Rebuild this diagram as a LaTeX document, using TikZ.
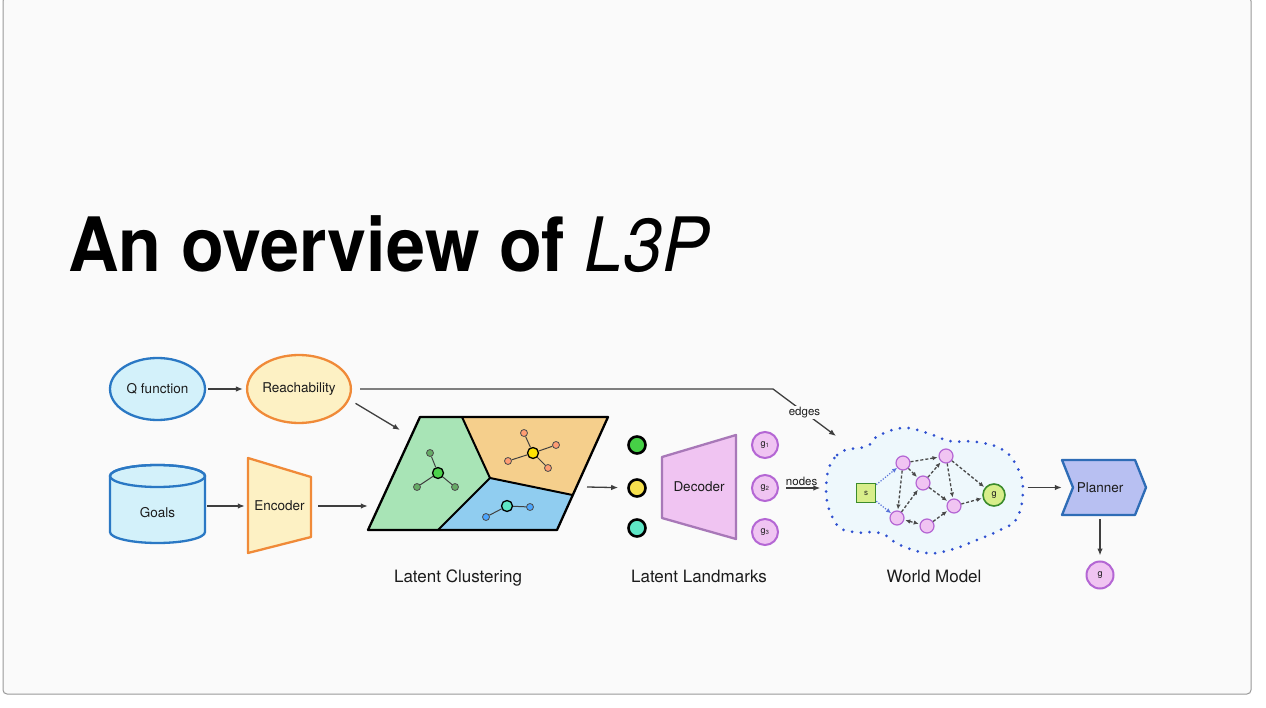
\documentclass[tikz,border=0pt]{standalone}
\usepackage{fontspec}
\setmainfont{TeX Gyre Heros}
\usetikzlibrary{arrows.meta,shapes.geometric,calc}

\definecolor{slidebg}{HTML}{FAFAFA}
\definecolor{ink}{HTML}{1C1C1C}
\definecolor{qfill}{HTML}{D3F1FA}
\definecolor{qdraw}{HTML}{2A78C4}
\definecolor{yfill}{HTML}{FDF1C4}
\definecolor{odraw}{HTML}{F08A38}
\definecolor{regG}{HTML}{A8E4B6}
\definecolor{regO}{HTML}{F5CF8C}
\definecolor{regB}{HTML}{90CDF0}
\definecolor{pinkfill}{HTML}{F0C4F2}
\definecolor{decdraw}{HTML}{A878B8}
\definecolor{gdraw}{HTML}{B466D4}
\definecolor{cloudfill}{HTML}{EEF8FC}
\definecolor{dotblue}{HTML}{2F50D0}
\definecolor{planfill}{HTML}{B8C0F2}
\definecolor{plandraw}{HTML}{2E6CB6}
\definecolor{sfill}{HTML}{D8EE8A}
\definecolor{sdraw}{HTML}{3C8C2C}
\definecolor{lmkG}{HTML}{46D046}
\definecolor{lmkY}{HTML}{F6E04E}
\definecolor{lmkA}{HTML}{5EE6C6}

\begin{document}
\begin{tikzpicture}[x=1pt,y=-1pt,
  txt/.style={font=\fontsize{13.5}{14}\selectfont, text=ink},
  lab/.style={font=\fontsize{11.5}{12}\selectfont, text=ink, inner sep=1pt},
  caption/.style={font=\fontsize{17}{18}\selectfont, text=ink, anchor=base},
  ell/.style={ellipse, line width=2.3pt, inner sep=0pt, txt},
  box/.style={inner sep=0pt, txt},
  arr/.style={-{Latex[length=7pt,width=5.5pt]}, line width=1.3pt, draw=ink!85},
  shp/.style={line width=2.3pt, line join=round},
  lmk/.style={circle, line width=2.6pt, draw=black, minimum size=17pt, inner sep=0pt},
  gcirc/.style={circle, line width=2pt, draw=gdraw, fill=pinkfill, minimum size=26pt, inner sep=0pt,
                font=\fontsize{9}{9}\selectfont, text=ink},
  pn/.style={circle, line width=1.2pt, draw=gdraw, fill=pinkfill, minimum size=14pt, inner sep=0pt},
  dedge/.style={-{Latex[length=5pt,width=4.5pt]}, line width=1.3pt, draw=ink!80, dash pattern=on 3pt off 2pt, shorten >=1pt},
  sedge/.style={-{Latex[length=5pt,width=4.5pt]}, line width=1.2pt, draw=dotblue!80, dash pattern=on 1.2pt off 1.6pt},
  hub/.style={circle, draw=black, line width=1.3pt, minimum size=11pt, inner sep=0pt},
  sat/.style={circle, draw=black!70, line width=0.8pt, minimum size=7pt, inner sep=0pt},
  spoke/.style={line width=1pt, draw=black!75}
]
\useasboundingbox (0,0) rectangle (1266,708);
\fill[white] (0,0) rectangle (1266,708);
\draw[fill=slidebg, draw=black!40, line width=1pt, rounded corners=4pt] (3,-3) rectangle (1251,694);

% title
\node[anchor=base west, inner sep=0pt, text=black] (title) at (68,272)
  {\scalebox{0.935}[1]{\fontsize{75}{75}\selectfont\bfseries An overview of \mdseries\itshape L3P}};

% inputs
\node[ell, fill=qfill, draw=qdraw, minimum width=95pt, minimum height=62pt] (q) at (157.5,389) {Q function};
\node[ell, fill=yfill, draw=odraw, minimum width=102pt, minimum height=68pt] (reach) at (299,389) {Reachability};

% goals database
\filldraw[fill=qfill, draw=qdraw, shp] (110,476) -- (110,532)
  arc[start angle=180, end angle=360, x radius=47.5pt, y radius=11pt] -- (205,476)
  arc[start angle=0, end angle=180, x radius=47.5pt, y radius=11pt] -- cycle;
\draw[draw=qdraw, shp] (157.5,476) ellipse[x radius=47.5pt, y radius=11pt];
\node[box, minimum width=95pt, minimum height=60pt] (goals) at (157.5,513) {Goals};

% encoder
\filldraw[fill=yfill, draw=odraw, shp] (248,458) -- (311,477) -- (311,537) -- (248,553) -- cycle;
\node[box, minimum width=63pt, minimum height=95pt] (enc) at (279.5,506) {Encoder};

% latent clustering
\coordinate (cTL) at (420,417); \coordinate (cTR) at (608,417);
\coordinate (cBR) at (557,530); \coordinate (cBL) at (368,530);
\coordinate (cC) at (490,478);  \coordinate (cT) at (462,417);
\coordinate (cR) at (572.5,495); \coordinate (cB) at (438,530);
\fill[regG] (cTL) -- (cT) -- (cC) -- (cB) -- (cBL) -- cycle;
\fill[regO] (cT) -- (cTR) -- (cR) -- (cC) -- cycle;
\fill[regB] (cC) -- (cR) -- (cBR) -- (cB) -- cycle;
\draw[black, line width=2.3pt, line join=round] (cTL) -- (cTR) -- (cBR) -- (cBL) -- cycle;
\draw[black, line width=2pt, line join=round] (cT) -- (cC) -- (cR) (cC) -- (cB);
\node[box, minimum width=240pt, minimum height=113pt] (clus) at (488,473.5) {};

% cluster points
\node[hub, fill=green!75!black!70] (h1) at (438,473) {};
\foreach \p [count=\i] in {(430,453),(417,487),(455,487)}
  \node[sat, fill=green!45!black!60] (s1\i) at \p {};
\foreach \i in {1,2,3} \draw[spoke] (h1) -- (s1\i);
\node[hub, fill=yellow!85!orange] (h2) at (533,453) {};
\foreach \p [count=\i] in {(524,433),(556,445),(508,461),(548,468)}
  \node[sat, fill=orange!60!red!55] (s2\i) at \p {};
\foreach \i in {1,2,3,4} \draw[spoke] (h2) -- (s2\i);
\node[hub, fill=lmkA] (h3) at (507,506) {};
\foreach \p [count=\i] in {(530,507),(486,517)}
  \node[sat, fill=blue!50!cyan!70] (s3\i) at \p {};
\foreach \i in {1,2} \draw[spoke] (h3) -- (s3\i);

% latent landmarks
\node[lmk, fill=lmkG] (l1) at (637,445) {};
\node[lmk, fill=lmkY] (l2) at (637,488) {};
\node[lmk, fill=lmkA] (l3) at (637,528) {};

% decoder
\filldraw[fill=pinkfill, draw=decdraw, shp] (662,457) -- (736,435) -- (736,539) -- (662,518) -- cycle;
\node[box, minimum width=74pt, minimum height=104pt] (dec) at (699,487) {Decoder};

\node[gcirc] (g1) at (765,445) {g\textsubscript{1}};
\node[gcirc] (g2) at (765,488) {g\textsubscript{2}};
\node[gcirc] (g3) at (765,532) {g\textsubscript{3}};

% world model
\path[fill=cloudfill, draw=dotblue, line width=3pt, dash pattern=on 0pt off 8.8pt, line cap=round]
  plot[smooth cycle, tension=0.75] coordinates {
   (826,488) (837,455) (867,446) (878,436) (903,428) (927,433) (950,441)
   (977,442) (1003,450) (1017,467) (1023,488) (1017,518) (1000,530)
   (977,540) (950,550) (927,553) (900,545) (880,533) (853,532) (835,522)};
\node[box, minimum width=195pt, minimum height=125pt] (wm) at (922,490) {};

\node[draw=sdraw, fill=sfill, line width=1.5pt, minimum size=19pt, inner sep=0pt,
      font=\fontsize{8}{8}\selectfont, text=ink] (s) at (866,493) {s};
\node[circle, draw=sdraw, fill=sfill, line width=1.6pt, minimum size=22pt, inner sep=0pt,
      font=\fontsize{9}{9}\selectfont, text=ink] (g) at (994,495) {g};
\node[pn] (a) at (903,463) {};
\node[pn] (b) at (946,456) {};
\node[pn] (c) at (923,483) {};
\node[pn] (d) at (954,506) {};
\node[pn] (e) at (897,518) {};
\node[pn] (f) at (927,526) {};
\draw[sedge] (s) -- (a);
\draw[sedge] (s) -- (e);
\foreach \u/\v in {a/b, a/c, a/e, c/b, b/d, b/g, c/d, e/c, f/d, d/g}
  \draw[dedge] (\u) -- (\v);
\draw[dedge, {Latex[length=5pt,width=4.5pt]}-{Latex[length=5pt,width=4.5pt]}, shorten <=1pt] (e) -- (f);

% planner
\filldraw[fill=planfill, draw=plandraw, shp] (1062,460) -- (1135,460) -- (1146,487.5) -- (1135,515)
  -- (1062,515) -- (1073,487.5) -- cycle;
\node[box, minimum width=76pt, minimum height=55pt] (plan) at (1100,487.5) {Planner};
\node[gcirc, minimum size=27pt] (gout) at (1100,575) {g};

% connectors
\draw[arr, shorten <=2pt, shorten >=3pt] (q) -- (reach);
\draw[arr, shorten <=2pt, shorten >=3pt] (goals.east |- enc.west) -- (enc.west);
\draw[arr, shorten <=7pt] (enc.east) -- (clus.west |- enc.east);
\coordinate (clusin) at (400,430);
\draw[arr, shorten <=7pt] (reach.-12) -- (clusin);
\coordinate (edgebend) at (773,389);
\coordinate (edgeend) at (836,436);
\draw[arr, shorten <=8pt] (reach.east) -- (edgebend)
  -- node[lab, fill=slidebg] {edges} (edgeend);
\coordinate (clusout) at (587,487);
\draw[arr, shorten >=9pt] (clusout) -- (l2);
\draw[arr, shorten <=7pt, shorten >=4pt] (g2) -- node[lab, above=1pt] {nodes} (wm.west |- g2);
\draw[arr, shorten <=8pt] (wm.east |- plan.west) -- (plan.west);
\draw[arr, shorten <=4pt, shorten >=5pt] (plan.south) -- (gout);

% captions
\node[caption] (capc) at (458,582) {Latent Clustering};
\node[caption] (capl) at (699,582) {Latent Landmarks};
\node[caption] (capw) at (934,582) {World Model};
\end{tikzpicture}
\end{document}
